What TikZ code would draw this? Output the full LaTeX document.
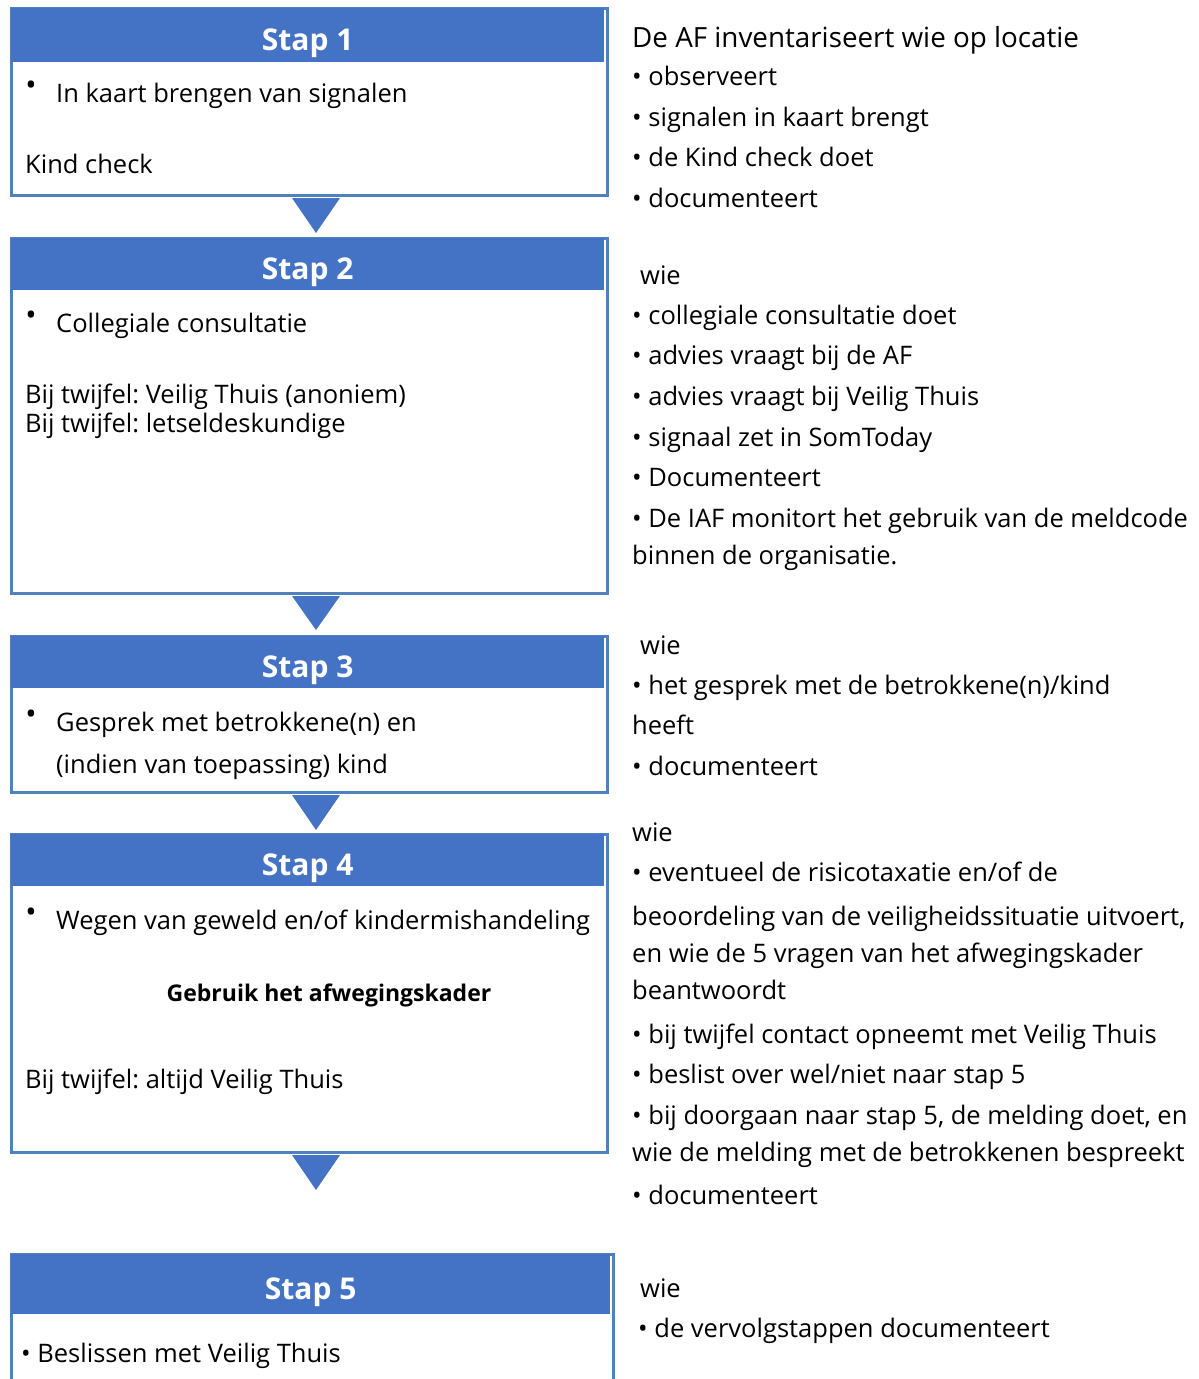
\documentclass[tikz,border=0pt]{standalone}
\usepackage{fontspec}
\setmainfont{Open Sans}
\frenchspacing
\definecolor{kopblauw}{RGB}{68,114,196}
\definecolor{randblauw}{RGB}{79,129,189}
\tikzset{
  stapbox/.style={draw=randblauw, line width=3pt, fill=white, anchor=north west, inner sep=0pt},
  stapkop/.style={fill=kopblauw, anchor=north west, inner sep=0pt, text height=30pt, text depth=0pt, text=white, font=\fontsize{30}{36}\selectfont\bfseries},
  regel/.style={anchor=base west, inner sep=0pt, font=\fontsize{25.5}{30}\selectfont},
  stip/.style={inner sep=0pt, font=\fontsize{30}{36}\selectfont},
  pijl/.style={fill=kopblauw},
}
\begin{document}
\begin{tikzpicture}[x=1pt, y=-1pt]
\clip (0,0) rectangle (1199,1379);

\foreach \n/\breed/\boven/\onder/\kop in {1/599/5/195/62, 2/599/235/593/290, 3/599/633/792/688, 4/599/831/1152/886, 5/605/1251/1420/1314}
{
	\node (s\n)[stapbox, minimum width={(\breed-3)*1pt}, minimum height={(\onder-\boven-3)*1pt}] at (9.5,\boven+1.5) {};
	\node (k\n)[stapkop, minimum width={(\breed-6)*1pt}, minimum height={(\kop-\boven-3)*1pt}] at (11,\boven+3) {Stap \n};
}

\foreach \n/\p in {1/233, 2/630, 3/830, 4/1190}
{
	\coordinate (t\n) at (316,\p);
	\fill[pijl] (s\n.south -| t\n) ++(-24,1.5) -- ++(48,0) -- (t\n) -- cycle;
}

\foreach \n/\y in {1/88, 2/318, 3/717, 4/915}
{
	\node (b\n)[stip] at (31,\y) {•};
}
\node (a1)[regel] at (56,102) {In kaart brengen van signalen};
\node (a2)[regel] at (25,173) {Kind check};
\node (a3)[regel] at (56,332) {Collegiale consultatie};
\node (a4)[regel] at (25,403) {Bij twijfel: Veilig Thuis (anoniem)};
\node (a5)[regel] at (25,432) {Bij twijfel: letseldeskundige};
\node (a6)[regel] at (56,731) {Gesprek met betrokkene(n) en};
\node (a7)[regel] at (56,773) {(indien van toepassing) kind};
\node (a8)[regel] at (56,929) {Wegen van geweld en/of kindermishandeling};
\node (a9)[regel, anchor=base, font=\fontsize{23}{27}\selectfont\bfseries] at (329,1001) {Gebruik het afwegingskader};
\node (a10)[regel] at (25,1088) {Bij twijfel: altijd Veilig Thuis};
\node (a11)[regel] at (21,1362) {• Beslissen met Veilig Thuis};

\node (r0)[regel, font=\fontsize{27.8}{33}\selectfont] at (632,47) {De AF inventariseert wie op locatie};
\foreach \x/\y/\rtext [count=\n] in {632/85/{• observeert}, 632/126/{• signalen in kaart brengt}, 632/166/{• de Kind check doet}, 632/207/{• documenteert},
	640/284/{wie}, 632/324/{• collegiale consultatie doet}, 632/364/{• advies vraagt bij de AF}, 632/405/{• advies vraagt bij Veilig Thuis},
	632/446/{• signaal zet in SomToday}, 632/486/{• Documenteert}, 632/527/{• De IAF monitort het gebruik van de meldcode}, 632/564/{binnen de organisatie.},
	640/654/{wie}, 632/694/{• het gesprek met de betrokkene(n)/kind}, 632/734/{heeft}, 632/775/{• documenteert},
	632/841/{wie}, 632/881/{• eventueel de risicotaxatie en/of de}, 632/925/{beoordeling van de veiligheidssituatie uitvoert,}, 632/962/{en wie de 5 vragen van het afwegingskader},
	632/999/{beantwoordt}, 632/1043/{• bij twijfel contact opneemt met Veilig Thuis}, 632/1083/{• beslist over wel/niet naar stap 5}, 632/1124/{• bij doorgaan naar stap 5, de melding doet, en},
	632/1161/{wie de melding met de betrokkenen bespreekt}, 632/1204/{• documenteert}, 640/1297/{wie}, 638/1337/{• de vervolgstappen documenteert}}
{
	\node (r\n)[regel] at (\x,\y) {\rtext};
}
\end{tikzpicture}
\end{document}
